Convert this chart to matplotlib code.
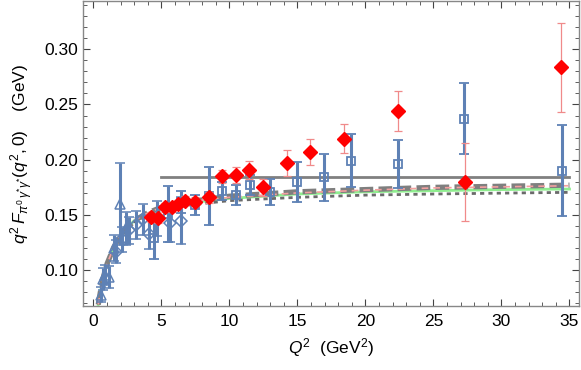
import matplotlib
matplotlib.use("Agg")
import matplotlib.pyplot as plt
from matplotlib.ticker import MultipleLocator

plt.rcParams['font.family'] = ['Liberation Sans', 'DejaVu Sans']
plt.rcParams['mathtext.fontset'] = 'custom'
plt.rcParams['mathtext.rm'] = 'Liberation Sans'
plt.rcParams['mathtext.it'] = 'Liberation Sans:italic'

# ---- data ----
cello_q2 = [0.54, 0.70, 0.88, 1.17, 1.52, 1.95, 2.40]
cello_v = [0.078, 0.092, 0.096, 0.094, 0.120, 0.160, 0.138]
cello_e = [0.007, 0.010, 0.009, 0.010, 0.012, 0.037, 0.015]

cleo_q2 = [1.64, 2.13, 2.62, 3.11, 3.61, 4.07, 4.70, 5.60, 6.47]
cleo_v = [0.117, 0.128, 0.136, 0.141, 0.146, 0.133, 0.147, 0.143, 0.145]
cleo_e = [0.010, 0.011, 0.012, 0.013, 0.014, 0.014, 0.016, 0.017, 0.021]

belle_q2 = [4.46, 5.47, 6.47, 7.47, 8.48, 9.48, 10.48, 11.48, 12.98, 14.97, 16.95, 18.96, 22.38, 27.28, 34.46]
belle_v = [0.129, 0.151, 0.162, 0.159, 0.167, 0.172, 0.168, 0.177, 0.171, 0.180, 0.184, 0.199, 0.196, 0.237, 0.190]
belle_e = [0.019, 0.025, 0.010, 0.009, 0.026, 0.008, 0.009, 0.009, 0.012, 0.018, 0.021, 0.024, 0.022, 0.032, 0.041]

babar_q2 = [4.24, 4.74, 5.24, 5.74, 6.24, 6.74, 7.45, 8.46, 9.46, 10.46, 11.46, 12.45, 14.2, 15.9, 18.4, 22.4, 27.3, 34.4]
babar_v = [0.148, 0.147, 0.157, 0.157, 0.160, 0.163, 0.162, 0.166, 0.185, 0.186, 0.191, 0.175, 0.197, 0.207, 0.219, 0.244, 0.180, 0.2835]
babar_e = [0.004, 0.004, 0.004, 0.004, 0.004, 0.004, 0.004, 0.005, 0.006, 0.007, 0.008, 0.008, 0.012, 0.012, 0.013, 0.018, 0.035, 0.040]

curve_q2 = [0.35, 0.5, 0.75, 1.0, 1.5, 2.0, 3.0, 4.0, 5.0, 7.0, 10.0, 15.0, 20.0, 25.0, 30.0, 35.0]
curve_dash = [0.069, 0.080, 0.095, 0.106, 0.121, 0.132, 0.145, 0.152, 0.157, 0.162, 0.167, 0.171, 0.173, 0.175, 0.176, 0.177]
curve_pink = [0.069, 0.080, 0.095, 0.106, 0.121, 0.132, 0.145, 0.152, 0.157, 0.162, 0.166, 0.170, 0.1725, 0.1745, 0.1755, 0.1765]
curve_green = [0.069, 0.080, 0.095, 0.106, 0.121, 0.132, 0.145, 0.151, 0.156, 0.161, 0.165, 0.169, 0.171, 0.172, 0.173, 0.1735]
curve_dot = [0.069, 0.080, 0.095, 0.106, 0.121, 0.132, 0.144, 0.150, 0.154, 0.159, 0.163, 0.166, 0.168, 0.169, 0.1698, 0.1705]

asym_q2 = [5.0, 35.0]
asym_v = [0.184, 0.184]

# ---- plot ----
fig = plt.figure(figsize=(5.81, 3.70), dpi=100)
ax = fig.add_axes([83.3 / 581, 1 - 306 / 370, (579 - 83.3) / 581, (306 - 1) / 370])

blue = '#5E81B5'
gray = '#808080'

ax.plot(asym_q2, asym_v, color=gray, lw=2.0, zorder=2)
ax.plot(curve_q2, curve_green, color='#90EE90', lw=2.0, zorder=2)
ax.plot(curve_q2, curve_dot, color='#6A6A6A', lw=2.0, ls=(0, (1.5, 1.5)), zorder=2)
ax.plot(curve_q2, curve_dash, color='#7F7F7F', lw=3.8, ls=(0, (2.6, 1.0)), zorder=2)
ax.plot(curve_q2, curve_pink, color='#F4A0A0', lw=1.2, ls=(0, (4, 3)), zorder=2)

ekw = dict(ecolor=blue, elinewidth=2.2, capsize=3.5, capthick=2.2, ls='none', zorder=3)
ax.errorbar(cello_q2, cello_v, yerr=cello_e, marker='^', ms=7, mfc='none', mec=blue, mew=1.1, **ekw)
ax.errorbar(cleo_q2, cleo_v, yerr=cleo_e, marker='D', ms=6, mfc='none', mec=blue, mew=1.1, **ekw)
ax.errorbar(belle_q2, belle_v, yerr=belle_e, marker='s', ms=6, mfc='none', mec=blue, mew=1.3, **ekw)
ax.errorbar(babar_q2, babar_v, yerr=babar_e, marker='D', ms=7.5, mfc='red', mec='red',
            ecolor='#F08A8A', elinewidth=0.9, capsize=3, capthick=0.9, ls='none', zorder=4)

ax.set_xlim(-0.75, 35.7)
ax.set_ylim(0.0677, 0.3436)

ax.xaxis.set_major_locator(MultipleLocator(5))
ax.xaxis.set_minor_locator(MultipleLocator(1))
ax.yaxis.set_major_locator(MultipleLocator(0.05))
ax.yaxis.set_minor_locator(MultipleLocator(0.01))
ax.yaxis.set_major_formatter(matplotlib.ticker.FormatStrFormatter('%.2f'))

for s in ax.spines.values():
    s.set_color('#888888')
    s.set_linewidth(1.0)
ax.tick_params(which='both', direction='in', top=True, right=True, color='#444444', labelsize=12.5, labelcolor='black')
ax.tick_params(which='major', length=5, width=0.8)
ax.tick_params(which='minor', length=3, width=0.6)
ax.tick_params(axis='x', pad=6)

ax.set_xlabel(r'$Q^2$  (GeV$^2$)', fontsize=12.5, labelpad=5)
ax.set_ylabel(r'$q^2\,F_{\pi^0\,\gamma^{*}\gamma^{*}}(q^2,0)$    (GeV)', fontsize=12.5, labelpad=7)

fig.savefig('out.png', dpi=100)
